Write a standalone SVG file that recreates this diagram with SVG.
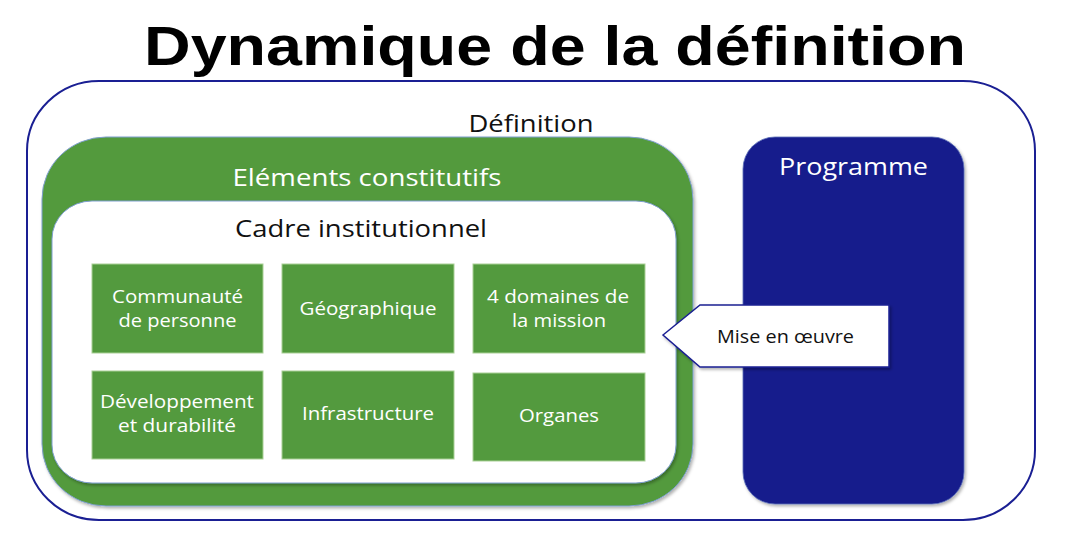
<svg xmlns="http://www.w3.org/2000/svg" width="1068" height="545" viewBox="0 0 1068 545">
<defs>
<filter id="sh" x="-10%" y="-10%" width="120%" height="120%">
<feDropShadow dx="1.5" dy="2" stdDeviation="1.5" flood-color="#000" flood-opacity="0.3"/>
</filter>
<style>
.t{font-family:"Open Sans","Noto Sans","Liberation Sans",sans-serif;text-anchor:middle}
.w{fill:#ffffff}
.k{fill:#111111}
.sq{fill:#539a3e;stroke:#a9d095;stroke-width:1}
.st{font-size:19px}
</style>
</defs>
<rect width="1068" height="545" fill="#ffffff"/>
<text x="555" y="65" font-family="'Liberation Sans',Arial,sans-serif" font-weight="bold" font-size="56" text-anchor="middle" textLength="822" lengthAdjust="spacingAndGlyphs" fill="#000">Dynamique de la définition</text>

<g id="definition">
<rect x="27" y="81" width="1008" height="439" rx="72" ry="70" fill="#ffffff" stroke="#1a1f93" stroke-width="2"/>
<text class="t k" x="531" y="132" font-size="23" textLength="125" lengthAdjust="spacingAndGlyphs">Définition</text>
</g>

<g id="elements-constitutifs">
<rect x="42" y="137" width="651" height="369" rx="64" ry="62" fill="#539a3e" stroke="#7f9fcf" stroke-width="1" filter="url(#sh)"/>
<text class="t w" x="367" y="186" font-size="23" textLength="269" lengthAdjust="spacingAndGlyphs">Eléments constitutifs</text>
</g>

<g id="cadre-institutionnel">
<rect x="52" y="201" width="624" height="282" rx="40" ry="38" fill="#ffffff" stroke="#7f9fcf" stroke-width="1" filter="url(#sh)"/>
<text class="t k" x="361" y="237" font-size="23" textLength="252" lengthAdjust="spacingAndGlyphs">Cadre institutionnel</text>
</g>

<g id="communaute">
<rect class="sq" x="92" y="264" width="171" height="89"/>
<text class="t w st" x="177.5" y="303" textLength="131" lengthAdjust="spacingAndGlyphs">Communauté</text>
<text class="t w st" x="177.5" y="327" textLength="118" lengthAdjust="spacingAndGlyphs">de personne</text>
</g>
<g id="geographique">
<rect class="sq" x="282" y="264" width="172" height="89"/>
<text class="t w st" x="368" y="315" textLength="137" lengthAdjust="spacingAndGlyphs">Géographique</text>
</g>
<g id="domaines">
<rect class="sq" x="473" y="264" width="172" height="89"/>
<text class="t w st" x="558" y="303" textLength="142" lengthAdjust="spacingAndGlyphs">4 domaines de</text>
<text class="t w st" x="559" y="327" textLength="94" lengthAdjust="spacingAndGlyphs">la mission</text>
</g>
<g id="developpement">
<rect class="sq" x="92" y="371" width="171" height="88"/>
<text class="t w st" x="177" y="408" textLength="154" lengthAdjust="spacingAndGlyphs">Développement</text>
<text class="t w st" x="177" y="432" textLength="118" lengthAdjust="spacingAndGlyphs">et durabilité</text>
</g>
<g id="infrastructure">
<rect class="sq" x="282" y="371" width="172" height="88"/>
<text class="t w st" x="368" y="420" textLength="132" lengthAdjust="spacingAndGlyphs">Infrastructure</text>
</g>
<g id="organes">
<rect class="sq" x="473" y="373" width="172" height="88"/>
<text class="t w st" x="559" y="422" textLength="80" lengthAdjust="spacingAndGlyphs">Organes</text>
</g>

<g id="programme">
<rect x="743" y="137" width="221" height="367" rx="32" ry="32" fill="#171c8c" stroke="#5a6fb8" stroke-width="0.8" filter="url(#sh)"/>
<text class="t w" x="853.5" y="175" font-size="23" textLength="149" lengthAdjust="spacingAndGlyphs">Programme</text>
</g>

<g id="mise-en-oeuvre">
<polygon points="663,335 700,305 889,305 889,367 700,367" fill="#ffffff" stroke="#1a1f93" stroke-width="1.5" filter="url(#sh)"/>
<text class="t k" x="785.5" y="343" font-size="18" textLength="137" lengthAdjust="spacingAndGlyphs">Mise en œuvre</text>
</g>

<g id="connectors"></g>
</svg>
